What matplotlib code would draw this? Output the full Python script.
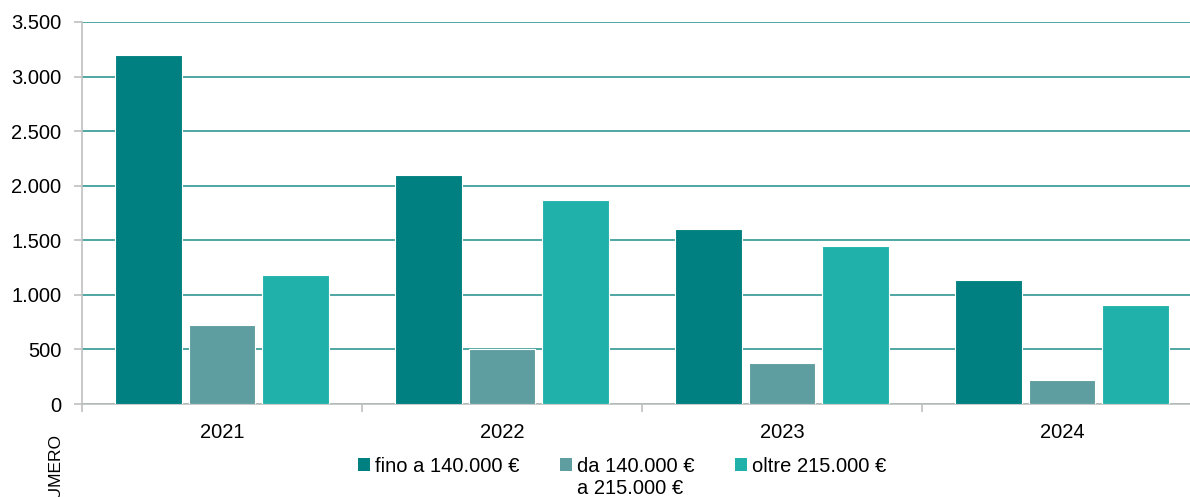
import matplotlib.pyplot as plt
import numpy as np
from matplotlib.ticker import FuncFormatter, MultipleLocator
from matplotlib.patches import Patch

plt.rcParams['font.family'] = ['Liberation Sans', 'DejaVu Sans']

years = ['2021', '2022', '2023', '2024']
fino = [3200, 2100, 1605, 1137]      # fino a 140.000 €
da = [725, 505, 377, 221]            # da 140.000 € a 215.000 €
oltre = [1183, 1870, 1449, 908]      # oltre 215.000 €
labels = ['fino a 140.000 €', 'da 140.000 €', 'oltre 215.000 €']
label2_extra = 'a 215.000 €'
colors = ['#008080', '#5f9ea0', '#20b2aa']

fig = plt.figure(figsize=(11.9, 4.97), dpi=100)
ax = fig.add_axes([82/1190, 1-404/497, 1120/1190, 382/497])

x = np.arange(len(years))
w = 0.239
step = 0.261
for i, (vals, c) in enumerate(zip([fino, da, oltre], colors)):
    ax.bar(x + (i-1)*step, vals, width=w, color=c, edgecolor='white', linewidth=0.8, zorder=3)

ax.set_xlim(-0.5, len(years)-0.5)
ax.set_ylim(0, 3500)
ax.yaxis.set_major_locator(MultipleLocator(500))
ax.yaxis.set_major_formatter(FuncFormatter(lambda v, p: f'{int(v):,}'.replace(',', '.')))
ax.grid(axis='y', color='#3f9f9b', linewidth=1.3, zorder=0)

ax.set_xticks(x)
ax.set_xticklabels(years)
ax.set_xticks(np.arange(-0.5, len(years)), minor=True)
ax.tick_params(axis='x', which='major', length=0, pad=14, labelsize=14.5)
ax.tick_params(axis='x', which='minor', length=6, color='#c0c0c0', width=1.2)
ax.tick_params(axis='y', length=6, color='#c0c0c0', width=1.2, labelsize=14.5, pad=9)

for s in ['top', 'right']:
    ax.spines[s].set_visible(False)
for s in ['left', 'bottom']:
    ax.spines[s].set_color('#c0c0c0')
    ax.spines[s].set_linewidth(1.2)

fig.text(55/1190, 1-472/497, 'NUMERO', rotation=90, ha='center', va='center', fontsize=12.5)

handles = [Patch(facecolor=c, edgecolor='none') for c in colors]
leg = fig.legend(handles, labels, loc='center', bbox_to_anchor=(622/1190, 1-466/497), ncol=3,
                 frameon=False, fontsize=14.5, handlelength=0.6, handleheight=0.6,
                 handletextpad=0.25, columnspacing=2.0, borderpad=0)

fig.canvas.draw()
t = leg.get_texts()[1]
bb = t.get_window_extent().transformed(fig.transFigure.inverted())
fig.text(bb.x0, bb.y0 - 0.008, label2_extra, ha='left', va='top', fontsize=14.5)

fig.savefig('out.png', dpi=100)
